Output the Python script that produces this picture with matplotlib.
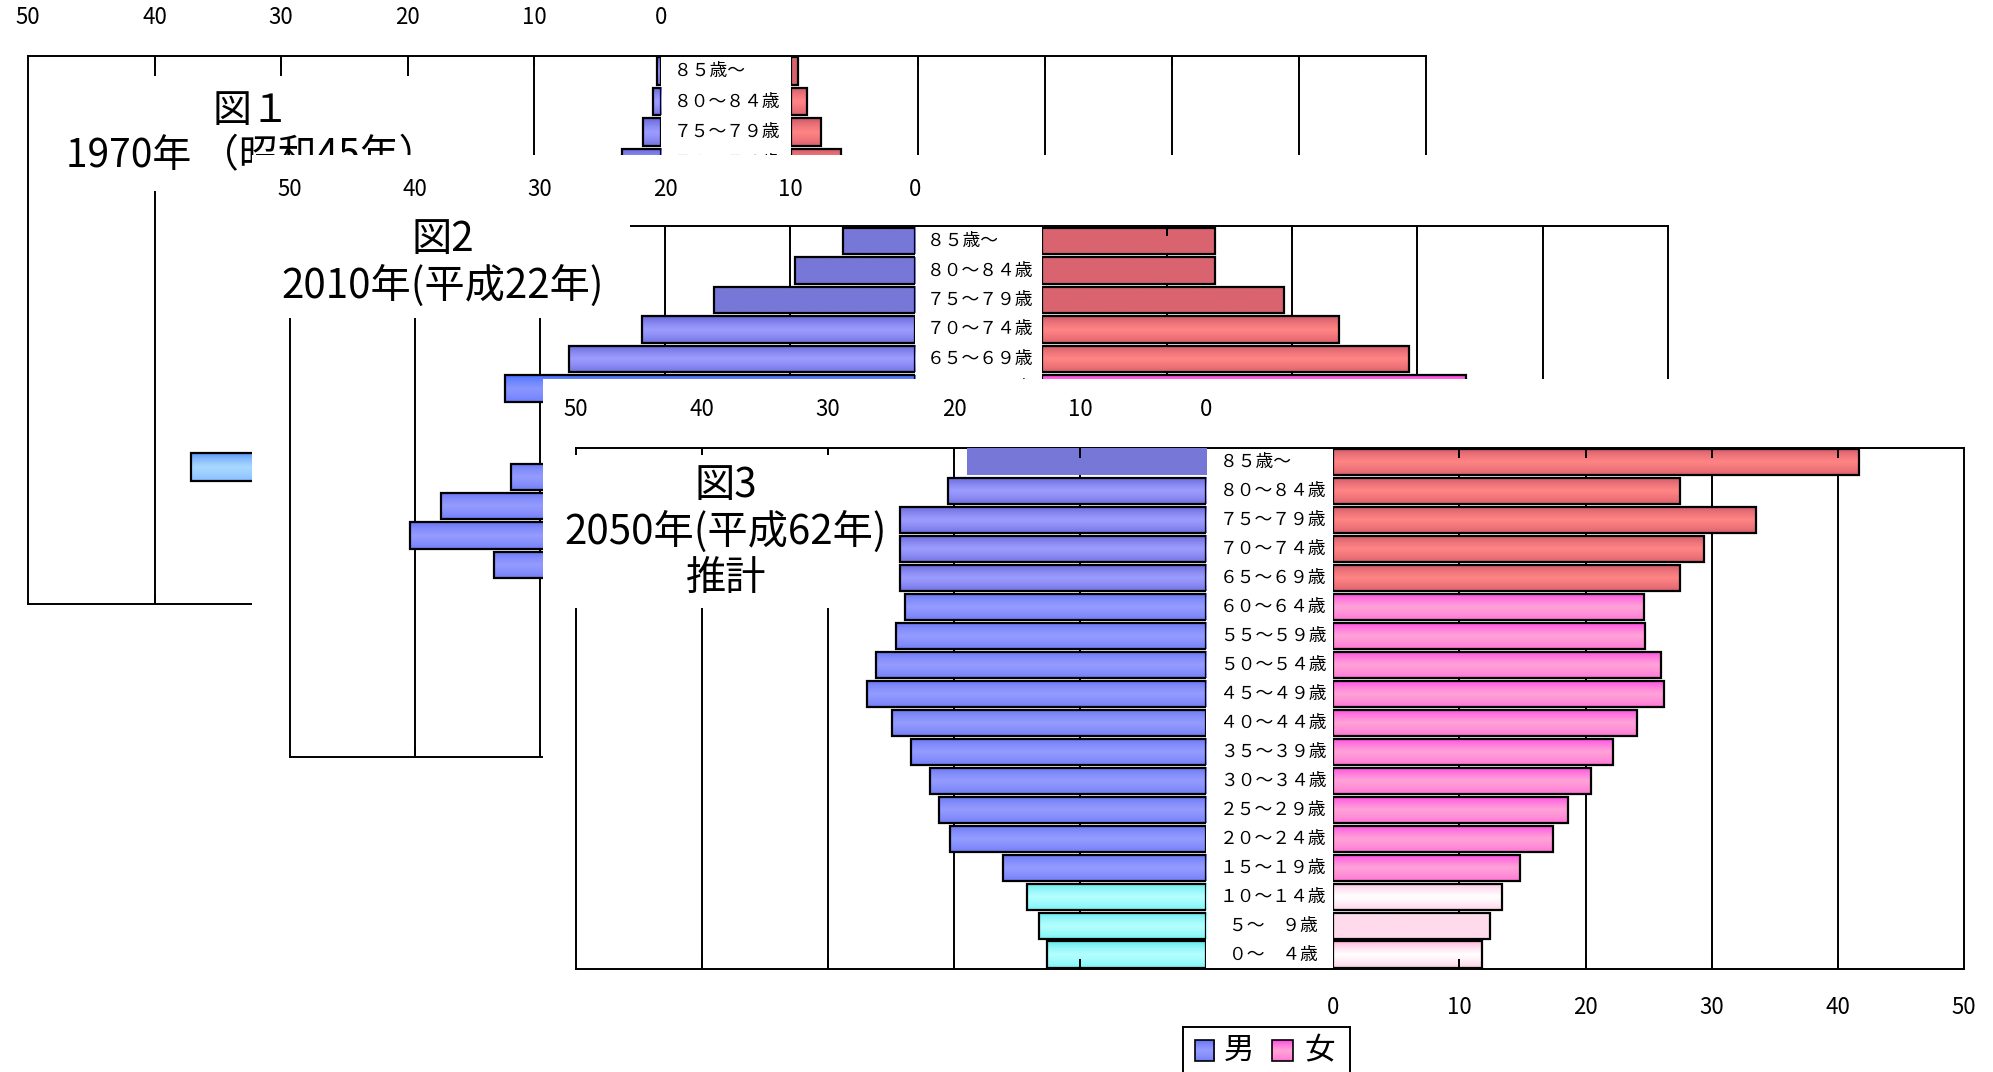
import numpy as np
import matplotlib
matplotlib.use("Agg")
import matplotlib.pyplot as plt
from matplotlib.patches import Rectangle
from matplotlib.colors import to_rgb
from matplotlib.transforms import blended_transform_factory as blend

plt.rcParams['font.family'] = ['Noto Sans CJK JP', 'DejaVu Sans']

# ---------------- data (values in 万人, rows from oldest to youngest) ----------------
ages = ["８５歳～　　", "８０～８４歳", "７５～７９歳", "７０～７４歳", "６５～６９歳",
        "６０～６４歳", "５５～５９歳", "５０～５４歳", "４５～４９歳", "４０～４４歳",
        "３５～３９歳", "３０～３４歳", "２５～２９歳", "２０～２４歳", "１５～１９歳",
        "１０～１４歳", "５～　９歳", "０～　４歳"]
axis_ticks = [0, 10, 20, 30, 40, 50]
nan = float('nan')

# 1970 (mostly hidden behind the later charts; only visible bars are given)
male_1970 = [0.3, 0.65, 1.4, 3.1, nan, nan, nan, nan, nan, nan, nan, nan, nan, 37.1,
             nan, nan, nan, nan]
female_1970 = [0.55, 1.3, 2.4, 3.95, nan, nan, nan, nan, nan, nan, nan, nan, nan, nan,
               nan, nan, nan, nan]
# 2010 (partly hidden)
male_2010 = [5.8, 9.6, 16.1, 21.8, 27.7, 32.8, nan, nan, 32.3, 37.9, 40.4, 33.7,
             nan, nan, nan, nan, nan, nan]
female_2010 = [13.85, 13.85, 19.3, 23.75, 29.3, 33.85, nan, nan, nan, nan, nan, nan,
               nan, nan, nan, nan, nan, nan]
# 2050 projection
male_2050 = [19.0, 20.5, 24.3, 24.3, 24.3, 23.9, 24.6, 26.2, 26.9, 24.9, 23.4, 21.9,
             21.2, 20.3, 16.1, 14.2, 13.3, 12.6]
female_2050 = [41.7, 27.5, 33.5, 29.4, 27.5, 24.6, 24.7, 26.0, 26.2, 24.1, 22.2, 20.4,
               18.6, 17.4, 14.8, 13.4, 12.4, 11.8]

title_1970 = "図１\n1970年 （昭和45年）"
title_2010 = "図2\n2010年(平成22年)"
title_2050 = "図3\n2050年(平成62年)\n推計"
legend_labels = ["男", "女"]
unit_label = "(万人)"

# age-label rows that are not hidden by the chart in front
visible_rows_1970 = 4
visible_rows_2010 = 6
visible_rows_2050 = 18

# ---------------- styles ----------------
SCHEMES = {
    'm_flat_ne': ('#7777d8', '#7777d8', '#7777d8', False),
    'm_flat':    ('#7777d8', '#7777d8', '#7777d8', True),
    'm_old':     ('#5757cf', '#9c9cff', '#6767da', True),
    'm_work':    ('#5c6af0', '#949cff', '#6a76f4', True),
    'm_work_b':  ('#3a68ff', '#8896ff', '#6a78ff', True),
    'm_child':   ('#4fe3e8', '#b4ffff', '#6cf0f2', True),
    'm_lb':      ('#4a88f8', '#a8d8ff', '#80b8ff', True),
    'f_flat':    ('#d9646f', '#d9646f', '#d9646f', True),
    'f_old':     ('#c04c60', '#ff8484', '#d25868', True),
    'f_work':    ('#ff2ee8', '#ffa2d8', '#ff6ad6', True),
    'f_c1':      ('#ffb0dc', '#ffffff', '#ffc6e4', True),
    'f_c2':      ('#ffdaeb', '#ffdaeb', '#ffdaeb', True),
    'f_c3':      ('#ffa0d2', '#ffffff', '#ffbfe0', True),
}
sty_m1970 = ['m_old'] * 13 + ['m_lb'] + ['m_old'] * 4
sty_f1970 = ['f_flat'] + ['f_old'] * 17
sty_m2010 = ['m_flat'] * 3 + ['m_old'] * 2 + ['m_work_b'] + ['m_work'] * 9 + ['m_child'] * 3
sty_f2010 = ['f_flat'] * 3 + ['f_old'] * 2 + ['f_work'] * 10 + ['f_c1', 'f_c2', 'f_c3']
sty_m2050 = ['m_flat_ne'] + ['m_old'] * 4 + ['m_work'] * 10 + ['m_child'] * 3
sty_f2050 = ['f_old'] * 5 + ['f_work'] * 10 + ['f_c1', 'f_c2', 'f_c3']

BAR_H = 0.9
TICK_FS = 16
AGE_FS = 12.8
TITLE_FS = 29
TITLE_LS = 1.15
LW = 1.4

fig = plt.figure(figsize=(19.93, 10.72), dpi=100)
fig.patch.set_facecolor('white')
W, H = 1568.0, 843.0


def box(x0, y0, x1, y1):
    return [x0 / W, 1 - y1 / H, (x1 - x0) / W, (y1 - y0) / H]


def grad(top, mid, bot, n=64):
    t = np.linspace(0, 1, n)
    ct, cm, cb = (np.array(to_rgb(c)) for c in (top, mid, bot))
    arr = np.empty((n, 1, 3))
    for k, tk in enumerate(t):
        if tk < 0.5:
            s = (tk / 0.5) ** 0.55
            arr[k, 0] = ct + (cm - ct) * s
        else:
            s = ((1 - tk) / 0.5) ** 0.55
            arr[k, 0] = cb + (cm - cb) * s
    return arr


def blank_axes(b, z, spines=False):
    ax = fig.add_axes(box(*b), zorder=z)
    ax.set_xticks([])
    ax.set_yticks([])
    ax.set_facecolor('white')
    for s in ax.spines.values():
        s.set_visible(spines)
        s.set_linewidth(LW)
    return ax


def half(b, z, values, styles, male):
    ax = fig.add_axes(box(*b), zorder=z)
    ax.patch.set_visible(False)
    for s in ax.spines.values():
        s.set_visible(False)
    for g in axis_ticks[1:-1]:
        ax.axvline(g, color='black', lw=LW, zorder=0.5)
    n = len(ages)
    for i, v in enumerate(values):
        if np.isnan(v):
            continue
        y = n - 1 - i
        top, mid, bot, edge = SCHEMES[styles[i]]
        ax.imshow(grad(top, mid, bot), extent=(0, v, y - BAR_H / 2, y + BAR_H / 2),
                  origin='upper', aspect='auto', interpolation='bilinear', zorder=1)
        if edge:
            ax.add_patch(Rectangle((0, y - BAR_H / 2), v, BAR_H, fill=False,
                                   ec='black', lw=1.6, zorder=1.2))
    ax.set_xlim((50, 0) if male else (0, 50))
    ax.set_ylim(-0.5, n - 0.5)
    ax.set_xticks(axis_ticks[1:-1])
    ax.set_yticks([])
    ax.tick_params(axis='x', direction='in', top=True, bottom=True,
                   labelbottom=False, labeltop=False, length=7, width=LW)
    return ax


def tick_labels(ax, ylab):
    tr = blend(ax.transData, fig.transFigure)
    for t in axis_ticks:
        ax.text(t, 1 - ylab / H, str(t), transform=tr, ha='center', va='center',
                fontsize=TICK_FS)


def age_labels(ax, xc, nrows):
    tr = blend(fig.transFigure, ax.transData)
    n = len(ages)
    for i, a in enumerate(ages[:nrows]):
        ax.text(xc / W, n - 1 - i, a, transform=tr, ha='center', va='center',
                fontsize=AGE_FS)


def title(ax, txt, x, y, fs=TITLE_FS):
    ax.text(x / W, 1 - y / H, txt, transform=fig.transFigure, ha='center',
            va='center', multialignment='center', fontsize=fs,
            linespacing=TITLE_LS)


# ---------------- 図1 : 1970 ----------------
blank_axes((22, 44, 1122, 475), 1, spines=True)
m1 = half((22, 44, 520, 475), 2, male_1970, sty_m1970, True)
f1 = half((622, 44, 1122, 475), 2, female_1970, sty_f1970, False)
tick_labels(m1, 14)
age_labels(m1, 572, visible_rows_1970)
t1 = blank_axes((30, 60, 405, 150), 3)
title(t1, title_1970, 198, 105, fs=28)

# ---------------- 図2 : 2010 ----------------
blank_axes((198, 122, 1330, 600), 4)
blank_axes((228, 178, 1312, 595), 5, spines=True)
m2 = half((228, 178, 720, 595), 6, male_2010, sty_m2010, True)
f2 = half((820, 178, 1312, 595), 6, female_2010, sty_f2010, False)
tick_labels(m2, 149)
age_labels(m2, 771, visible_rows_2010)
t2 = blank_axes((198, 162, 496, 250), 7)
title(t2, title_2010, 348, 207)

# ---------------- 図3 : 2050 ----------------
blank_axes((427, 298, 1600, 900), 8)
blank_axes((453, 352, 1545, 762), 9, spines=True)
m3 = half((453, 352, 949, 762), 10, male_2050, sty_m2050, True)
f3 = half((1049, 352, 1545, 762), 10, female_2050, sty_f2050, False)
tick_labels(m3, 322)
tick_labels(f3, 792)
age_labels(m3, 1001.5, visible_rows_2050)
t3 = blank_axes((440, 358, 700, 478), 11)
title(t3, title_2050, 571, 418)

# legend
lg = blank_axes((931, 808, 1062, 862), 12, spines=True)
leg_sw = [('m_work', 940, 955, 975), ('f_work', 1001, 1017, 1038)]
for (st, xa, xb, xt), lab in zip(leg_sw, legend_labels):
    x0, x1 = (xa - 931) / 131, (xb - 931) / 131
    y0, y1 = 1 - (834 - 808) / 54, 1 - (818 - 808) / 54
    top, mid, bot, _ = SCHEMES[st]
    lg.imshow(grad(top, mid, bot), extent=(x0, x1, y0, y1), origin='upper',
              aspect='auto', interpolation='bilinear', zorder=1)
    lg.add_patch(Rectangle((x0, y0), x1 - x0, y1 - y0, fill=False, ec='black', lw=1.2))
    lg.text((xt - 931) / 131, 1 - (826 - 808) / 54, lab, ha='center', va='center',
            fontsize=22)
lg.set_xlim(0, 1)
lg.set_ylim(0, 1)

fig.text(1528 / W, 1 - 820 / H, unit_label, ha='center', va='center', fontsize=11)

fig.savefig('out.png', dpi=100, facecolor='white')
